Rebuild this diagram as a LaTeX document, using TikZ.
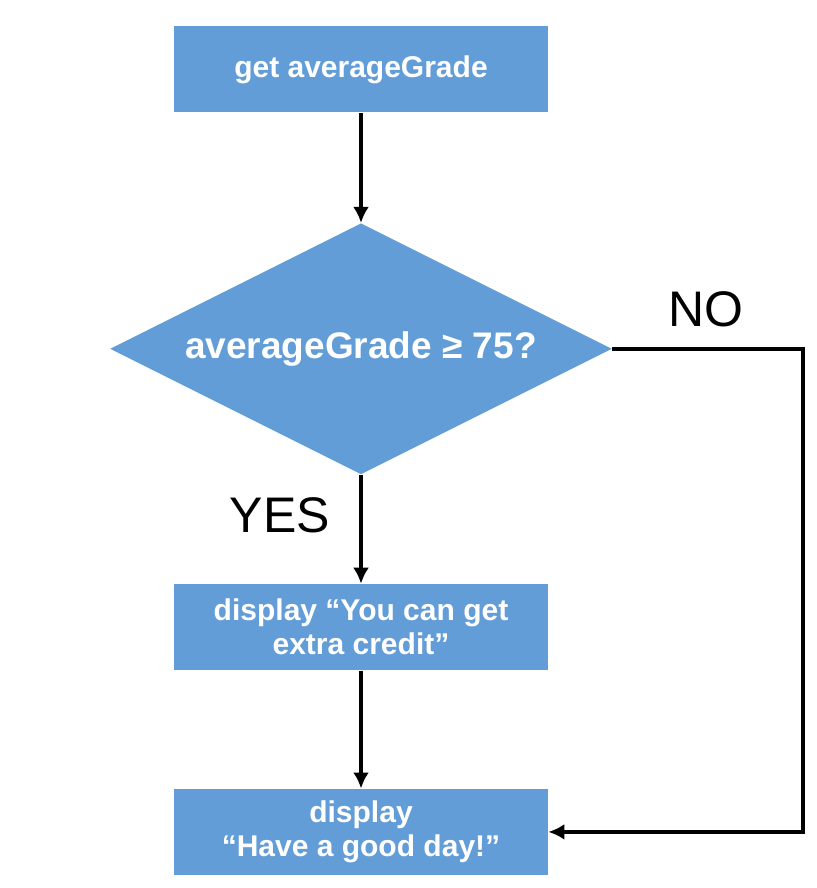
\documentclass[tikz,border=0pt]{standalone}
\usepackage{fontspec}
\setmainfont{Liberation Sans}
\usetikzlibrary{positioning}
\usetikzlibrary{shapes.geometric}
\usetikzlibrary{arrows.meta}
\definecolor{flowblue}{RGB}{98,157,216}
\tikzset{
	block/.style={
		rectangle,
		fill=flowblue,
		text=white,
		align=center,
		minimum width=187pt,
		minimum height=43pt,
		inner sep=0pt,
		font=\bfseries\fontsize{15}{17}\selectfont
	},
	decision/.style={
		diamond,
		aspect=2,
		fill=flowblue,
		text=white,
		minimum width=251pt,
		minimum height=125.5pt,
		inner sep=0pt,
		font=\bfseries\fontsize{18.5}{20}\selectfont
	},
	answer/.style={
		font=\fontsize{25}{28}\selectfont
	},
	flow/.style={
		line width=2pt,
		-{Latex[length=8pt,width=8pt]}
	}
}
\begin{document}
\begin{tikzpicture}[x=0.5pt,y=-0.5pt]
		\useasboundingbox (0,0) rectangle (816,888);
		\draw node[block](GetGrade) at (361,69.5){get averageGrade};
		\draw node[decision, below=55pt of GetGrade](Check){averageGrade ≥ 75?};
		\draw node[block, below=54.5pt of Check](Credit){display “You can get\\ extra credit”};
		\draw node[block, below=59pt of Credit](GoodDay){display\\ “Have a good day!”};
		\draw node[answer](Yes) at (280,515){YES};
		\draw node[answer](No) at (706,309){NO};
		
		\draw [flow] (GetGrade) -- (Check);
		\draw [flow] (Check) -- (Credit);
		\draw [flow] (Credit) -- (GoodDay);
		\draw [flow] (Check.east) -- ++(191,0) |- (GoodDay.east);
	\end{tikzpicture}
\end{document}
